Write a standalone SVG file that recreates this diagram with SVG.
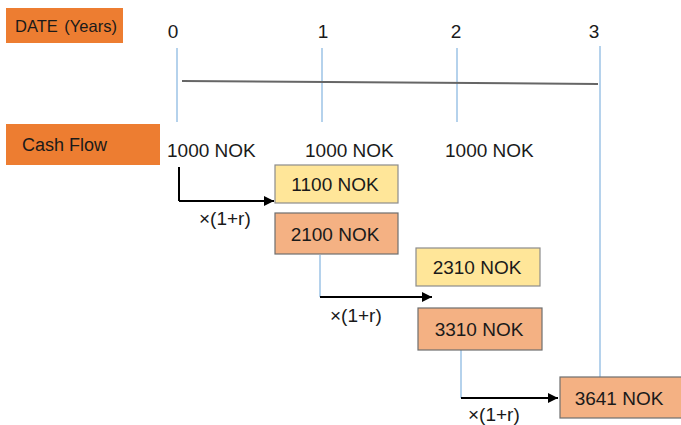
<svg xmlns="http://www.w3.org/2000/svg" width="681" height="425" viewBox="0 0 681 425">
<style>
text{font-family:"Liberation Sans",Arial,sans-serif;font-size:19px;fill:#1a1a1a}
.hdr{fill:#ED7D31}
.yel{fill:#FFE699;stroke:#8C8C8C;stroke-width:1.2}
.sal{fill:#F4B183;stroke:#6E6E6E;stroke-width:1.2}
.grid{stroke:#9DC3E6;stroke-width:1.5;fill:none}
.blk{stroke:#000;stroke-width:2;fill:none}
.c{text-anchor:middle}
</style>
<defs>
<marker id="ah" viewBox="0 0 10 10" refX="10" refY="5" markerWidth="5" markerHeight="5" orient="auto" markerUnits="strokeWidth">
<path d="M0,0 L10,5 L0,10 z" fill="#000"/>
</marker>
</defs>
<g id="date-label"><rect class="hdr" x="6" y="8" width="117" height="35"/><text x="15" y="32" style="font-size:16.5px;word-spacing:2px">DATE (Years)</text></g>
<g id="cashflow-label"><rect class="hdr" x="6" y="124" width="154" height="41"/><text x="22" y="151" style="font-size:18px">Cash Flow</text></g>
<g id="years">
<text class="c" x="173" y="38">0</text>
<text class="c" x="323" y="38">1</text>
<text class="c" x="456" y="38">2</text>
<text class="c" x="594" y="38">3</text>
</g>
<g id="flows">
<text x="167" y="157">1000 NOK</text>
<text x="305" y="157">1000 NOK</text>
<text x="445" y="157">1000 NOK</text>
</g>
<g id="connectors">
<line class="grid" x1="177" y1="48" x2="177" y2="122"/>
<line class="grid" x1="322" y1="48" x2="322" y2="122"/>
<line class="grid" x1="457" y1="48" x2="457" y2="122"/>
<line class="grid" x1="600" y1="46" x2="600" y2="377"/>
<line x1="182" y1="81" x2="598" y2="84" stroke="#666" stroke-width="2"/>
<polyline class="blk" stroke-width="1" points="179,167 179,201"/>
<line class="blk" x1="179" y1="201" x2="274" y2="201" marker-end="url(#ah)"/>
<polyline class="grid" points="320,255 320,297"/>
<line class="blk" x1="320" y1="297" x2="432" y2="297" marker-end="url(#ah)"/>
<polyline class="grid" points="461,350 461,398"/>
<line class="blk" x1="461" y1="398" x2="558" y2="398" marker-end="url(#ah)"/>
<text x="199" y="225">×(1+r)</text>
<text x="330" y="322">×(1+r)</text>
<text x="468" y="421">×(1+r)</text>
</g>
<g id="n1100"><rect class="yel" x="275" y="165" width="123" height="38"/><text class="c" x="335" y="191">1100 NOK</text></g>
<g id="n2100"><rect class="sal" x="275" y="213" width="123" height="41"/><text class="c" x="335" y="241">2100 NOK</text></g>
<g id="n2310"><rect class="yel" x="416" y="248" width="124" height="38"/><text class="c" x="477" y="274">2310 NOK</text></g>
<g id="n3310"><rect class="sal" x="418" y="308" width="124" height="42"/><text class="c" x="479" y="336">3310 NOK</text></g>
<g id="n3641"><rect class="sal" x="560" y="377" width="125" height="41"/><text class="c" x="619" y="405">3641 NOK</text></g>
</svg>
